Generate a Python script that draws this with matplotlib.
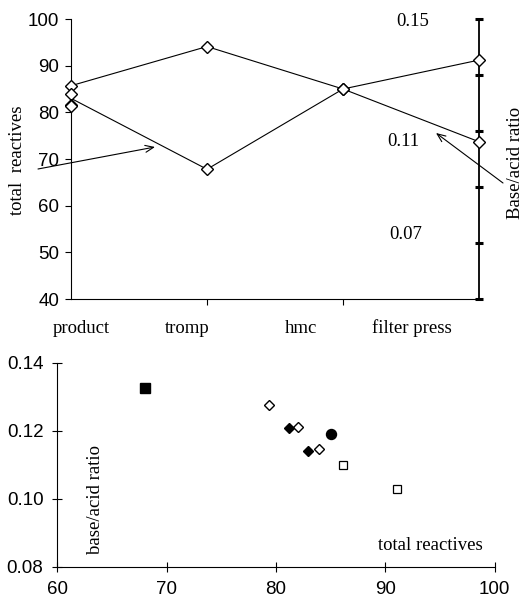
import matplotlib
matplotlib.use("Agg")
import matplotlib.pyplot as plt
import numpy as np

# ---------------- data ----------------
categories = ["product", "tromp", "hmc", "filter press"]
series_a = [85.7, 94.1, 85.0, 91.2]
series_b = [83.0, 67.8, 85.0, 73.7]
product_extra = [84.0, 81.6, 81.3]
right_ticks = [0.05, 0.07, 0.09, 0.11, 0.13, 0.15]
right_labels = ["0.15", "0.11", "0.07"]
left_ticks = [40, 50, 60, 70, 80, 90, 100]

sq_filled_x, sq_filled_y = [68.0], [0.1325]
dia_open_x, dia_open_y = [79.4, 82.0, 83.9], [0.1276, 0.1210, 0.1145]
dia_filled_x, dia_filled_y = [81.2, 82.9], [0.1207, 0.1141]
circ_filled_x, circ_filled_y = [85.0], [0.1189]
sq_open_x, sq_open_y = [86.1, 91.1], [0.1099, 0.1029]
bottom_xticks = [60, 70, 80, 90, 100]
bottom_yticks = [0.08, 0.10, 0.12, 0.14]

SANS = "Liberation Sans"
SERIF = "Liberation Serif"
plt.rcParams["font.family"] = SANS

W, H = 526, 600
fig = plt.figure(figsize=(W / 100, H / 100), dpi=100)

def fx(px):
    return px / W

def fy(py):
    return 1 - py / H

# ---------------- top chart ----------------
ax = fig.add_axes([fx(71), fy(299), fx(479) - fx(71), fy(19) - fy(299)])
ax2 = ax.twinx()
ax.set_zorder(ax2.get_zorder() + 1)
ax.patch.set_visible(False)

xpos = np.arange(len(categories))
mk = dict(marker="D", ms=5.8, mfc="white", mec="black", mew=1.0)
ax.plot(xpos, series_a, color="black", lw=0.8, zorder=3, clip_on=False, **mk)
ax.plot(xpos, series_b, color="black", lw=0.8, markevery=[1, 2, 3], zorder=3,
        clip_on=False, **mk)
ax.plot([0] * len(product_extra), product_extra, ls="none", zorder=4,
        clip_on=False, **mk)
ax.set_xlim(0, len(categories) - 1)
ax.set_ylim(40, 100)
ax.set_yticks(left_ticks)
ax.set_xticks(xpos[1:-1])
ax.set_xticklabels([])
ax.tick_params(axis="y", direction="out", length=4.5, width=0.8, labelsize=13.5, pad=4)
ax.tick_params(axis="x", direction="out", length=4, width=0.8)
for s in ["top", "right"]:
    ax.spines[s].set_visible(False)
for s in ["left", "bottom"]:
    ax.spines[s].set_linewidth(0.8)

cat_xfrac = [0.0245, 0.284, 0.564, 0.836]
for lab, xf in zip(categories, cat_xfrac):
    ax.text(xf, -0.1036, lab, transform=ax.transAxes, ha="center", va="center",
            fontsize=13.5, fontfamily=SERIF)

ax2.set_ylim(0.05, 0.15)
ax2.set_yticks(right_ticks)
ax2.set_yticklabels([])
ax2.tick_params(axis="y", direction="inout", length=6, width=2.2)
for s in ["top", "left", "bottom"]:
    ax2.spines[s].set_visible(False)
ax2.spines["right"].set_linewidth(1.3)

lab_pos = [(413, 21.7), (403, 142), (406, 235)]
for lab, (px, py) in zip(right_labels, lab_pos):
    fig.text(fx(px), fy(py), lab, ha="center", va="center", fontsize=13.5,
             fontfamily=SERIF)

fig.text(fx(18), fy(160), "total  reactives", rotation=90, ha="center",
         va="center", fontsize=13.5, fontfamily=SERIF)
fig.text(fx(516), fy(163), "Base/acid ratio", rotation=90, ha="center",
         va="center", fontsize=13.5, fontfamily=SERIF)

arrow_kw = dict(arrowstyle="->,head_length=0.6,head_width=0.25", color="black", lw=0.8,
                shrinkA=0, shrinkB=0)
ax.annotate("", xy=(fx(155), fy(147)), xytext=(fx(38), fy(169)),
            xycoords="figure fraction", textcoords="figure fraction",
            arrowprops=arrow_kw, annotation_clip=False)
ax.annotate("", xy=(fx(436), fy(133)), xytext=(fx(503), fy(183)),
            xycoords="figure fraction", textcoords="figure fraction",
            arrowprops=arrow_kw, annotation_clip=False)

# ---------------- bottom chart ----------------
bx = fig.add_axes([fx(57.3), fy(566.7), fx(494.7) - fx(57.3), fy(362.7) - fy(566.7)])
bx.plot(sq_filled_x, sq_filled_y, ls="none", marker="s", ms=7.5, mfc="black", mec="black")
bx.plot(dia_open_x, dia_open_y, ls="none", marker="D", ms=5.5, mfc="white", mec="black", mew=1.0)
bx.plot(dia_filled_x, dia_filled_y, ls="none", marker="D", ms=5.5, mfc="black", mec="black", mew=1.0)
bx.plot(circ_filled_x, circ_filled_y, ls="none", marker="o", ms=7.2, mfc="black", mec="black")
bx.plot(sq_open_x, sq_open_y, ls="none", marker="s", ms=6.3, mfc="white", mec="black", mew=0.9)
bx.set_xlim(60, 100)
bx.set_ylim(0.08, 0.14)
bx.set_xticks(bottom_xticks)
bx.set_yticks(bottom_yticks)
bx.set_yticklabels([f"{v:.2f}" for v in bottom_yticks])
bx.tick_params(axis="both", direction="inout", length=7, width=0.8, labelsize=13.5)
bx.tick_params(axis="x", pad=7)
bx.tick_params(axis="y", pad=6.5)
for s in ["top", "right"]:
    bx.spines[s].set_visible(False)
for s in ["left", "bottom"]:
    bx.spines[s].set_linewidth(0.8)

fig.text(fx(95), fy(499), "base/acid ratio", rotation=90, ha="center", va="center",
         fontsize=13.5, fontfamily=SERIF)
fig.text(fx(430), fy(546), "total reactives", ha="center", va="center",
         fontsize=13.5, fontfamily=SERIF)

fig.savefig("out.png", dpi=100)
